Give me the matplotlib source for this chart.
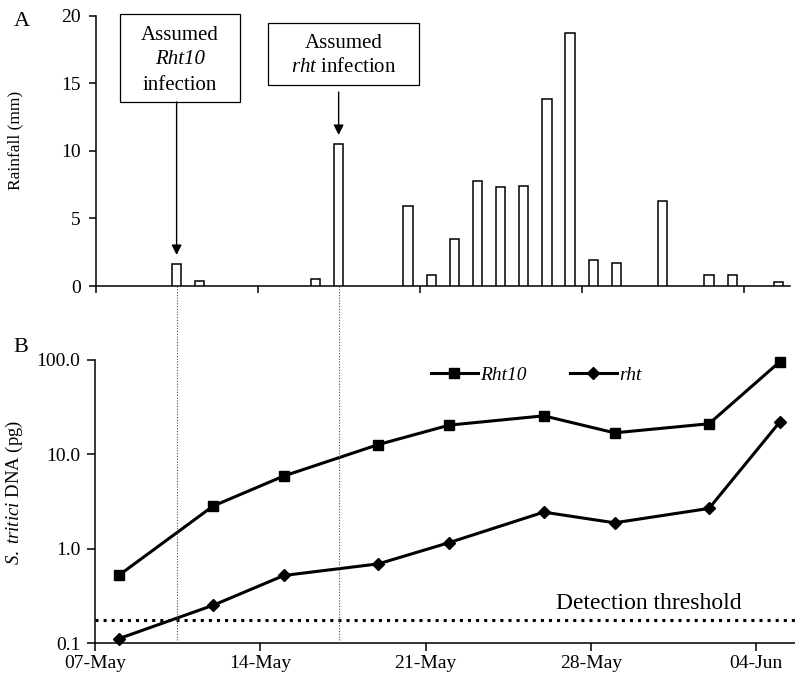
import matplotlib
matplotlib.use('Agg')
import matplotlib.pyplot as plt
import numpy as np
import pandas as pd
from matplotlib.transforms import blended_transform_factory
from matplotlib.lines import Line2D
from matplotlib.patches import Rectangle
from matplotlib.ticker import NullLocator, FixedLocator

plt.rcParams['font.family'] = ['Liberation Serif', 'DejaVu Serif']
plt.rcParams['mathtext.fontset'] = 'custom'
plt.rcParams['mathtext.rm'] = 'Liberation Serif'
plt.rcParams['mathtext.it'] = 'Liberation Serif:italic'

# ---------------- data ----------------
start_date = '2008-05-07'
rain_dates = ['2008-05-10', '2008-05-11', '2008-05-16', '2008-05-17', '2008-05-20',
              '2008-05-21', '2008-05-22', '2008-05-23', '2008-05-24', '2008-05-25',
              '2008-05-26', '2008-05-27', '2008-05-28', '2008-05-29', '2008-05-31',
              '2008-06-02', '2008-06-03', '2008-06-05']
rain_mm = [1.6, 0.4, 0.5, 10.5, 5.9, 0.8, 3.5, 7.8, 7.3, 7.4, 13.8, 18.7, 1.9, 1.7,
           6.3, 0.8, 0.8, 0.3]

sample_dates = ['2008-05-08', '2008-05-12', '2008-05-15', '2008-05-19', '2008-05-22',
                '2008-05-26', '2008-05-29', '2008-06-02', '2008-06-05']
rht10_dna = [0.52, 2.83, 5.9, 12.7, 20.4, 25.6, 16.9, 21.1, 96.0]
rht_dna = [0.111, 0.251, 0.52, 0.69, 1.16, 2.44, 1.88, 2.67, 22.1]
detection_threshold = 0.174

tick_dates = ['2008-05-07', '2008-05-14', '2008-05-21', '2008-05-28', '2008-06-04']
tick_labels = ['07-May', '14-May', '21-May', '28-May', '04-Jun']
infection_dates = ['2008-05-10', '2008-05-17']
infection_labels = ['Rht10', 'rht']

rain_yticks = [0, 5, 10, 15, 20]
dna_yticks = [0.1, 1, 10, 100]
dna_yticklabels = ['0.1', '1.0', '10.0', '100.0']

# ---------------- helpers ----------------
t0 = pd.Timestamp(start_date)
def days(ds):
    return np.array([(pd.Timestamp(d) - t0).days for d in ds], dtype=float)

W, H = 795, 686
def fx(x):
    return x / W
def fy(y):
    return 1 - y / H

fig = plt.figure(figsize=(W / 100, H / 100), dpi=100)

# ---------------- panel A ----------------
ax1 = fig.add_axes([fx(95.6), fy(286), (790 - 95.6) / W, (286 - 15.7) / H])
ax1.bar(days(rain_dates) + 0.5, rain_mm, width=0.4, color='white',
        edgecolor='black', linewidth=1.1, zorder=3)
ax1.set_xlim(0, 30)
ax1.set_ylim(0, 20)
ax1.set_yticks(rain_yticks)
ax1.set_xticks(days(tick_dates))
ax1.set_xticklabels([])
for s in ['top', 'right']:
    ax1.spines[s].set_visible(False)
for s in ['left', 'bottom']:
    ax1.spines[s].set_linewidth(1.1)
ax1.tick_params(direction='out', length=5.3, width=1.1, labelsize=14, pad=5.5)
ax1.set_ylabel('Rainfall (mm)', fontsize=12.5)
ax1.yaxis.set_label_coords(-0.1045, 0.54)

# ---------------- panel B ----------------
ax2 = fig.add_axes([fx(95), fy(643), 700 / W, 283 / H])
xs = days(sample_dates)
l1, = ax2.plot(xs, rht10_dna, '-s', color='black', lw=2.2, ms=7.5, label='Rht10',
               clip_on=False, zorder=4)
l2, = ax2.plot(xs, rht_dna, '-D', color='black', lw=2.2, ms=6.0, label='rht',
               clip_on=False, zorder=4)
ax2.axhline(detection_threshold, color='black', ls=':', lw=2.2)
ax2.set_yscale('log')
ax2.set_ylim(0.1, 100)
ax2.set_xlim(0, 29.64)
ax2.yaxis.set_major_locator(FixedLocator(dna_yticks))
ax2.yaxis.set_minor_locator(NullLocator())
ax2.set_yticklabels(dna_yticklabels)
ax2.set_xticks(days(tick_dates))
ax2.set_xticklabels(tick_labels)
for s in ['top', 'right']:
    ax2.spines[s].set_visible(False)
for s in ['left', 'bottom']:
    ax2.spines[s].set_linewidth(1.1)
ax2.tick_params(direction='out', length=5.5, width=1.1, labelsize=14, pad=5)
ax2.tick_params(axis='x', pad=3.5)
ax2.set_ylabel(r'$\it{S.\ tritici}$ DNA (pg)', fontsize=13.5)
ax2.yaxis.set_label_coords(-0.1, 0.534)
ax2.text(0.659, 0.141, 'Detection threshold', transform=ax2.transAxes,
         fontsize=17, ha='left', va='center')
ax2.legend(handles=[l1, l2], ncol=2, loc='center left', bbox_to_anchor=(0.48, 0.947),
           frameon=False, prop={'style': 'italic', 'size': 14}, handlelength=2.4,
           handletextpad=0.15, columnspacing=2.2, borderpad=0, borderaxespad=0)

# ---------------- annotations ----------------
fig.text(fx(22), fy(21), 'A', fontsize=16, ha='center', va='center')
fig.text(fx(20.5), fy(348), 'B', fontsize=16, ha='center', va='center')

tr = blended_transform_factory(ax1.transData, fig.transFigure)
inf_x = days(infection_dates) + 0.5
for xv in inf_x:
    fig.add_artist(Line2D([xv, xv], [fy(286), fy(643)], transform=tr,
                          ls=(0, (1, 1.5)), lw=0.8, color='0.3'))

# boxes
fig.add_artist(Rectangle((fx(120), fy(102)), 120 / W, (102 - 14) / H,
                         transform=fig.transFigure, fill=False, ec='black', lw=0.9))
fig.add_artist(Rectangle((fx(268), fy(85)), 151 / W, (85 - 23) / H,
                         transform=fig.transFigure, fill=False, ec='black', lw=0.9))
fig.text(fx(180), fy(35), 'Assumed', fontsize=15, ha='center', va='center')
fig.text(fx(180), fy(60), infection_labels[0], fontsize=15, style='italic',
         ha='center', va='center')
fig.text(fx(180), fy(85), 'infection', fontsize=15, ha='center', va='center')
fig.text(fx(343.5), fy(44), 'Assumed', fontsize=15, ha='center', va='center')
fig.text(fx(343.5), fy(68), r'$\it{' + infection_labels[1] + r'}$ infection',
         fontsize=15, ha='center', va='center')

arrow_start = [102, 92]
arrow_tip = [255, 135]
for xv, ys, yt in zip(inf_x, arrow_start, arrow_tip):
    ax1.annotate('', xy=(xv, fy(yt)), xycoords=tr, xytext=(xv, fy(ys)), textcoords=tr,
                 arrowprops=dict(arrowstyle='-|>', color='black', lw=1.0,
                                 mutation_scale=15, shrinkA=0, shrinkB=0),
                 annotation_clip=False)

fig.savefig('out.png', dpi=100)
